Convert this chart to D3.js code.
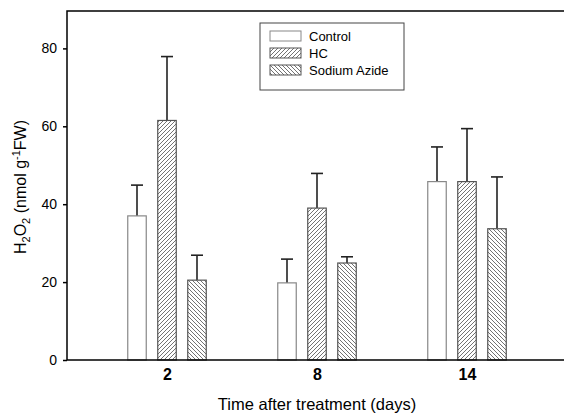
<!DOCTYPE html>
<html>
<head>
<meta charset="utf-8">
<script src="https://cdn.jsdelivr.net/npm/d3@7"></script>
<style>
  body { margin: 0; background: #fff; }
  text { font-family: "Liberation Sans", Arial, sans-serif; fill: #000; }
</style>
</head>
<body>
<div id="chart"></div>
<script>
// data
var days = [2, 8, 14];
var seriesNames = ["Control", "HC", "Sodium Azide"];
var controlVals = [37.0, 19.8, 45.8];
var controlErr = [7.9, 6.1, 8.9];
var hcVals = [61.5, 39.0, 45.8];
var hcErr = [16.4, 8.9, 13.6];
var azideVals = [20.5, 24.9, 33.7];
var azideErr = [6.4, 1.6, 13.3];
var yTicks = [0, 20, 40, 60, 80];

var svgWidth = 564;
var svgHeight = 414;

var margin = { top: 11, right: 0, bottom: 54, left: 67 };
var height = svgHeight - margin.top - margin.bottom;

var svg = d3.select("#chart")
  .append("svg")
  .attr("width", svgWidth)
  .attr("height", svgHeight);

// hatch patterns
var defs = svg.append("defs");
function hatch(id, d) {
  var p = defs.append("pattern")
    .attr("id", id)
    .attr("patternUnits", "userSpaceOnUse")
    .attr("width", 4)
    .attr("height", 4);
  p.append("rect").attr("width", 4).attr("height", 4).attr("fill", "#fff");
  p.append("path")
    .attr("d", d)
    .attr("stroke", "#444")
    .attr("stroke-width", 0.75);
}
hatch("fwd", "M-1,1 l2,-2 M0,4 l4,-4 M3,5 l2,-2");
hatch("back", "M-1,3 l2,2 M0,0 l4,4 M3,-1 l2,2");

var fills = ["#fff", "url(#fwd)", "url(#back)"];
var strokes = ["#888", "#555", "#555"];

var x = d3.scaleLinear().domain([-2, 18]).range([margin.left, margin.left + 500]);
var y = d3.scaleLinear().domain([0, 89.6]).range([margin.top + height, margin.top]);

var series = [
  { name: seriesNames[0], vals: controlVals, err: controlErr },
  { name: seriesNames[1], vals: hcVals, err: hcErr },
  { name: seriesNames[2], vals: azideVals, err: azideErr }
];

var offset = 1.2;   // days between bars in a group
var barW = 0.74;    // bar width in days

series.forEach(function(s, i) {
  var g = svg.append("g");
  var pts = days.map(function(d, j) { return { day: d, v: s.vals[j], e: s.err[j] }; });

  // error bars first, so bars sit on top
  g.selectAll("line.err")
    .data(pts)
    .enter()
    .append("line")
    .attr("x1", d => x(d.day + (i - 1) * offset))
    .attr("x2", d => x(d.day + (i - 1) * offset))
    .attr("y1", d => y(d.v))
    .attr("y2", d => y(d.v + d.e))
    .attr("stroke", "#222")
    .attr("stroke-width", 1.6);

  g.selectAll("line.cap")
    .data(pts)
    .enter()
    .append("line")
    .attr("x1", d => x(d.day + (i - 1) * offset) - 6)
    .attr("x2", d => x(d.day + (i - 1) * offset) + 6)
    .attr("y1", d => y(d.v + d.e))
    .attr("y2", d => y(d.v + d.e))
    .attr("stroke", "#222")
    .attr("stroke-width", 1.6);

  g.selectAll("rect")
    .data(pts)
    .enter()
    .append("rect")
    .attr("x", d => x(d.day + (i - 1) * offset - barW / 2))
    .attr("y", d => y(d.v))
    .attr("width", x(barW) - x(0))
    .attr("height", d => y(0) - y(d.v))
    .attr("fill", fills[i])
    .attr("stroke", strokes[i])
    .attr("stroke-width", 1.2);
});

// axes
var leftAxis = d3.axisLeft(y).tickValues(yTicks).tickSize(4).tickPadding(6);
var yAxis = svg.append("g")
  .attr("transform", `translate(${margin.left}, 0)`)
  .call(leftAxis);
yAxis.select(".domain").remove();
yAxis.selectAll("line").attr("stroke", "#000").attr("stroke-width", 1.5);
yAxis.selectAll("text").style("font-size", "14px");

var bottomAxis = d3.axisBottom(x).tickValues(days).tickSize(0).tickPadding(9);
var xAxis = svg.append("g")
  .attr("transform", `translate(0, ${y(0)})`)
  .call(bottomAxis);
xAxis.select(".domain").remove();
xAxis.selectAll("text").style("font-size", "16px").style("font-weight", "bold");

// frame (left, top, bottom; right side runs off the page)
svg.append("path")
  .attr("d", `M${svgWidth},${margin.top}H${margin.left}V${y(0)}H${svgWidth}`)
  .attr("fill", "none")
  .attr("stroke", "#000")
  .attr("stroke-width", 1.5);

// axis titles
svg.append("text")
  .attr("x", x(8))
  .attr("y", 410)
  .attr("text-anchor", "middle")
  .style("font-size", "16.5px")
  .text("Time after treatment (days)");

var yLab = svg.append("text")
  .attr("transform", `translate(26, 187) rotate(-90)`)
  .attr("text-anchor", "middle")
  .style("font-size", "16px");
yLab.append("tspan").text("H");
yLab.append("tspan").attr("dy", 4).style("font-size", "11px").text("2");
yLab.append("tspan").attr("dy", -4).text("O");
yLab.append("tspan").attr("dy", 4).style("font-size", "11px").text("2");
yLab.append("tspan").attr("dy", -4).text(" (nmol g");
yLab.append("tspan").attr("dy", -6).style("font-size", "11px").text("-1");
yLab.append("tspan").attr("dy", 6).text("FW)");

// legend
var legend = svg.append("g").attr("transform", "translate(260, 23)");
legend.append("rect")
  .attr("width", 144)
  .attr("height", 67)
  .attr("fill", "#fff")
  .attr("stroke", "#444")
  .attr("stroke-width", 1);

var rows = legend.selectAll("g.row")
  .data(seriesNames)
  .enter()
  .append("g")
  .attr("transform", (d, i) => `translate(10, ${8 + i * 17})`);
rows.append("rect")
  .attr("width", 31)
  .attr("height", 10)
  .attr("fill", (d, i) => fills[i])
  .attr("stroke", (d, i) => strokes[i])
  .attr("stroke-width", 1);
rows.append("text")
  .attr("x", 39)
  .attr("y", 10)
  .style("font-size", "13px")
  .text(d => d);
</script>
</body>
</html>
